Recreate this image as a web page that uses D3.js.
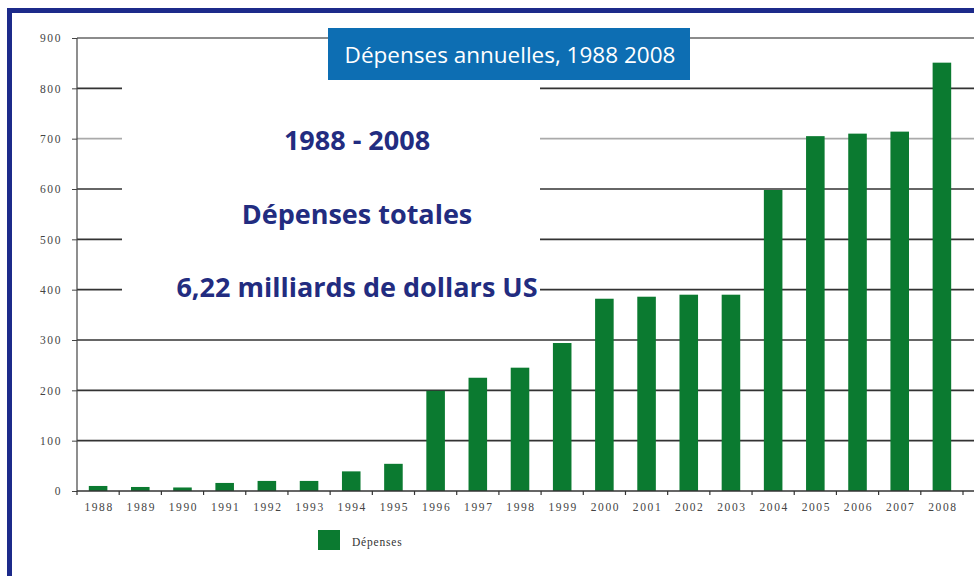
<!DOCTYPE html>
<html><head><meta charset="utf-8">
<script src="https://cdn.jsdelivr.net/npm/d3@7"></script>
<style>body{margin:0;background:#fff;}svg{display:block;}</style>
</head><body>
<svg id="c" width="974" height="576"></svg>
<script>
const years = ["1988","1989","1990","1991","1992","1993","1994","1995","1996","1997","1998","1999","2000","2001","2002","2003","2004","2005","2006","2007","2008"];
const depenses = [10,8,7,16,20,20,39,54,199,225,245,294,382,386,390,390,598,705,710,714,851];
const yTicks = [0,100,200,300,400,500,600,700,800,900];
const titleText = "Dépenses annuelles, 1988 2008";
const bigLines = ["1988 - 2008","Dépenses totales","6,22 milliards de dollars US"];
const legendLabel = "Dépenses";

const svg = d3.select("#c");
const x = d3.scaleBand().domain(years).range([77, 963]).paddingInner(0.56).paddingOuter(0.28);
const y = d3.scaleLinear().domain([0, 900]).range([491, 38]);

// frame
svg.append("rect").attr("x",9.5).attr("y",10.5).attr("width",980).attr("height",580)
  .attr("fill","none").attr("stroke","#1c2a8a").attr("stroke-width",5);

// gridlines
svg.append("g").selectAll("line").data(yTicks.filter(d=>d>0)).join("line")
  .attr("x1",77).attr("x2",974).attr("y1",d=>y(d)).attr("y2",d=>y(d))
  .attr("stroke",d=>d===700?"#aaa":(d===900?"#666":"#333")).attr("stroke-width",1.6);

// white panel behind the big text
svg.append("rect").attr("x",122).attr("y",80).attr("width",418).attr("height",226).attr("fill","#fff");

// bars
svg.append("g").selectAll("rect").data(years).join("rect")
  .attr("x",d=>x(d)).attr("width",x.bandwidth())
  .attr("y",(d,i)=>y(depenses[i])).attr("height",(d,i)=>y(0)-y(depenses[i]))
  .attr("fill","#0b7a30");

const axisFont = sel => sel.attr("font-family","Liberation Serif").attr("font-size",11.5)
  .attr("letter-spacing",1.6).attr("fill","#444");

// y axis
const ya = svg.append("g").attr("transform","translate(77,0)")
  .call(d3.axisLeft(y).tickValues(yTicks).tickSize(5).tickPadding(10));
ya.select(".domain").attr("stroke","#444").attr("stroke-width",1.2).attr("d","M0,38V491");
ya.selectAll("text").call(axisFont);
ya.selectAll("line").attr("stroke","#444");

// x axis
const xa = svg.append("g").attr("transform","translate(0,491)")
  .call(d3.axisBottom(x).tickSize(0).tickPadding(12));
xa.select(".domain").attr("stroke","#333").attr("stroke-width",1.6).attr("d","M77,0H974");
xa.selectAll("text").call(axisFont).attr("dx",1);
svg.append("g").selectAll("line").data(d3.range(years.length+1)).join("line")
  .attr("x1",i=>77+i*x.step()).attr("x2",i=>77+i*x.step()).attr("y1",491).attr("y2",495)
  .attr("stroke","#333").attr("stroke-width",1.2);

// title box
svg.append("rect").attr("x",328).attr("y",28).attr("width",362).attr("height",52).attr("fill","#0d6eb3");
svg.append("text").attr("x",510).attr("y",63).attr("text-anchor","middle")
  .attr("font-family","Open Sans").attr("font-size",22.5).attr("fill","#fff").text(titleText);

// big text
const by = [150,224,297];
svg.append("g").selectAll("text").data(bigLines).join("text")
  .attr("x",357).attr("y",(d,i)=>by[i]).attr("text-anchor","middle")
  .attr("font-family","Open Sans").attr("font-weight",700).attr("font-size",27)
  .attr("fill","#222c80").text(d=>d);

// legend
svg.append("rect").attr("x",318).attr("y",530).attr("width",22).attr("height",20).attr("fill","#0b7a30");
svg.append("text").attr("x",352).attr("y",546).attr("font-family","Liberation Serif")
  .attr("font-size",11.5).attr("letter-spacing",0.8).attr("fill","#333").text(legendLabel);
</script>
</body></html>
